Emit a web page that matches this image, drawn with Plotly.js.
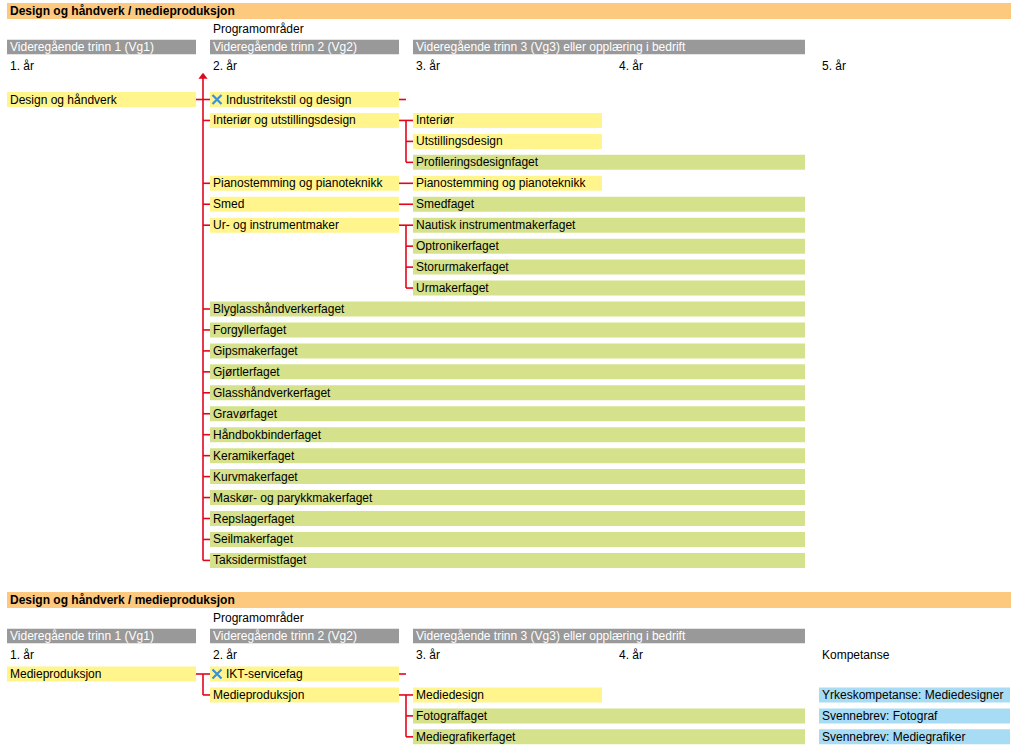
<!DOCTYPE html>
<html><head><meta charset="utf-8">
<script src="https://cdn.plot.ly/plotly-3.0.1.min.js"></script>
<style>html,body{margin:0;padding:0;background:#fff}#chart{width:1011px;height:748px}</style>
</head><body><div id="chart"></div>
<script>
// ================= DATA =================
const sectionTitles = ["Design og håndverk / medieproduksjon", "Design og håndverk / medieproduksjon"];
const headerCaption = "Programområder";
const levelLabels = ["Videregående trinn 1 (Vg1)", "Videregående trinn 2 (Vg2)", "Videregående trinn 3 (Vg3) eller opplæring i bedrift"];
const levelFirstCol = [0, 1, 2];
const levelLastCol = [0, 1, 3];
const yearLabelsA = ["1. år", "2. år", "3. år", "4. år", "5. år"];
const yearLabelsB = ["1. år", "2. år", "3. år", "4. år", "Kompetanse"];

// Section A: Design og håndverk
const boxLabelsA = ["Design og håndverk", "Industritekstil og design", "Interiør og utstillingsdesign", "Interiør",
  "Utstillingsdesign", "Profileringsdesignfaget", "Pianostemming og pianoteknikk", "Pianostemming og pianoteknikk",
  "Smed", "Smedfaget", "Ur- og instrumentmaker", "Nautisk instrumentmakerfaget", "Optronikerfaget",
  "Storurmakerfaget", "Urmakerfaget", "Blyglasshåndverkerfaget", "Forgyllerfaget", "Gipsmakerfaget",
  "Gjørtlerfaget", "Glasshåndverkerfaget", "Gravørfaget", "Håndbokbinderfaget", "Keramikerfaget",
  "Kurvmakerfaget", "Maskør- og parykkmakerfaget", "Repslagerfaget", "Seilmakerfaget", "Taksidermistfaget"];
const boxRowsA     = [0, 0, 1, 1, 2, 3, 4, 4, 5, 5, 6, 6, 7, 8, 9, 10, 11, 12, 13, 14, 15, 16, 17, 18, 19, 20, 21, 22];
const boxFirstColA = [0, 1, 1, 2, 2, 2, 1, 2, 1, 2, 1, 2, 2, 2, 2, 1, 1, 1, 1, 1, 1, 1, 1, 1, 1, 1, 1, 1];
const boxLastColA  = [0, 1, 1, 2, 2, 3, 1, 2, 1, 3, 1, 3, 3, 3, 3, 3, 3, 3, 3, 3, 3, 3, 3, 3, 3, 3, 3, 3];
const boxKindA     = ["Y","Y","Y","Y","Y","G","Y","Y","Y","G","Y","G","G","G","G","G","G","G","G","G","G","G","G","G","G","G","G","G"];
const boxCrossedA  = [false, true, false, false, false, false, false, false, false, false, false, false, false, false,
  false, false, false, false, false, false, false, false, false, false, false, false, false, false];
const linkColA      = [0, 1, 1, 1, 1, 1];
const linkParentA   = [0, 0, 1, 4, 5, 6];
const linkChildrenA = [[0, 1, 4, 5, 6, 10, 11, 12, 13, 14, 15, 16, 17, 18, 19, 20, 21, 22], [], [1, 2, 3], [4], [5], [6, 7, 8, 9]];
const linkArrowA    = [true, false, false, false, false, false];

// Section B: Medieproduksjon
const boxLabelsB = ["Medieproduksjon", "IKT-servicefag", "Medieproduksjon", "Mediedesign", "Fotograffaget",
  "Mediegrafikerfaget", "Yrkeskompetanse: Mediedesigner", "Svennebrev: Fotograf", "Svennebrev: Mediegrafiker"];
const boxRowsB     = [0, 0, 1, 1, 2, 3, 1, 2, 3];
const boxFirstColB = [0, 1, 1, 2, 2, 2, 4, 4, 4];
const boxLastColB  = [0, 1, 1, 2, 3, 3, 4, 4, 4];
const boxKindB     = ["Y","Y","Y","Y","G","G","B","B","B"];
const boxCrossedB  = [false, true, false, false, false, false, false, false, false];
const linkColB      = [0, 1, 1];
const linkParentB   = [0, 0, 1];
const linkChildrenB = [[0, 1], [], [1, 2, 3]];
const linkArrowB    = [false, false, false];

// ================= GEOMETRY / STYLE =================
const PITCH = 203;              // px per column
const BOXW = 189 / PITCH;       // box width in column units
const EDGEW = 191 / PITCH;      // last column reaches page edge
const GAPMID = 196 / PITCH;     // connector spine offset
const TXT = 3 / PITCH;          // text padding
const ROW = 20.95;              // px per row
const BOXH = 15 / ROW;
const FONT = "Liberation Sans, Arial, sans-serif";
const COLORS = {Y: "#fff58c", G: "#d5e28b", B: "#a8dcf4"};
const ORANGE = "#fdc97e", GREY = "#999999", RED = "#e2061c", CROSS = "#3b8fdb";
const xRange = [-7 / PITCH, 1004 / PITCH];
const row0PxA = 99.5, row0PxB = 674;
const hdrBaseA = (11 - row0PxA) / ROW, hdrBaseB = (600 - row0PxB) / ROW;
const HDR = {title: 0, caption: 0.86, level: 1.72, year: 2.625};
const ARROW_ROW = -1.08;

const traces = [];
const annotations = [];

function section(yaxis, yref, hdrBase, yearLabels, labels, rows, first, last, kind, crossed, lcol, lpar, lch, larrow) {
  // header bars
  const hx = [], hb = [], hy = [], hw = [], hc = [];
  hb.push(0); hx.push(xRange[1]); hy.push(hdrBase + HDR.title); hw.push(16 / ROW); hc.push(ORANGE);
  levelLabels.forEach((l, i) => {
    hb.push(levelFirstCol[i]); hx.push(levelLastCol[i] - levelFirstCol[i] + BOXW);
    hy.push(hdrBase + HDR.level); hw.push(14.5 / ROW); hc.push(GREY);
  });
  traces.push({type: "bar", orientation: "h", base: hb, x: hx, y: hy, width: hw, yaxis: yaxis,
    marker: {color: hc}, hoverinfo: "skip", showlegend: false});
  annotations.push({text: "<b>" + (yaxis === "y" ? sectionTitles[0] : sectionTitles[1]) + "</b>", x: TXT, y: hdrBase + HDR.title});
  annotations.push({text: headerCaption, x: 1 + TXT, y: hdrBase + HDR.caption});
  levelLabels.forEach((l, i) => annotations.push({text: l, x: levelFirstCol[i] + TXT, y: hdrBase + HDR.level, color: "#ffffff"}));
  yearLabels.forEach((l, i) => annotations.push({text: l, x: i + TXT, y: hdrBase + HDR.year}));
  annotations.forEach(a => { if (!a.yref) a.yref = yref; });

  // boxes
  ["Y", "G", "B"].forEach(k => {
    const idx = labels.map((_, i) => i).filter(i => kind[i] === k);
    if (!idx.length) return;
    traces.push({type: "bar", orientation: "h", yaxis: yaxis,
      base: idx.map(i => first[i]),
      x: idx.map(i => (last[i] - first[i]) + (last[i] === 4 ? EDGEW : BOXW)),
      y: idx.map(i => rows[i]), width: BOXH,
      marker: {color: COLORS[k]}, hoverinfo: "skip", showlegend: false});
  });
  labels.forEach((l, i) => annotations.push({text: l, x: first[i] + (crossed[i] ? 16 / PITCH : TXT), y: rows[i], yref: yref}));
  const cx = [], cy = [];
  labels.forEach((l, i) => { if (crossed[i]) { cx.push(first[i] + 7 / PITCH); cy.push(rows[i]); } });
  if (cx.length) traces.push({type: "scatter", mode: "markers", x: cx, y: cy, yaxis: yaxis,
    marker: {symbol: "x-thin", size: 9, line: {width: 2.2, color: CROSS}}, hoverinfo: "skip", showlegend: false});

  // connectors
  const lx = [], ly = [], ax = [], ay = [];
  lcol.forEach((c, j) => {
    const p = lpar[j], ch = lch[j], mid = c + GAPMID;
    lx.push(c + BOXW, mid, null); ly.push(p, p, null);
    if (ch.length) {
      let top = Math.min(p, ...ch), bot = Math.max(p, ...ch);
      if (larrow[j]) { top = ARROW_ROW; ax.push(mid); ay.push(ARROW_ROW); }
      lx.push(mid, mid, null); ly.push(top, bot, null);
      ch.forEach(r => { lx.push(mid, c + 1, null); ly.push(r, r, null); });
    }
  });
  traces.push({type: "scatter", mode: "lines", x: lx, y: ly, yaxis: yaxis, connectgaps: false,
    line: {color: RED, width: 1.6}, hoverinfo: "skip", showlegend: false});
  if (ax.length) traces.push({type: "scatter", mode: "markers", x: ax, y: ay, yaxis: yaxis,
    marker: {symbol: "triangle-up", size: 8, color: RED}, hoverinfo: "skip", showlegend: false});
}

section("y", "y", hdrBaseA, yearLabelsA, boxLabelsA, boxRowsA, boxFirstColA, boxLastColA, boxKindA, boxCrossedA,
  linkColA, linkParentA, linkChildrenA, linkArrowA);
section("y2", "y2", hdrBaseB, yearLabelsB, boxLabelsB, boxRowsB, boxFirstColB, boxLastColB, boxKindB, boxCrossedB,
  linkColB, linkParentB, linkChildrenB, linkArrowB);

const anns = annotations.map(a => ({
  text: a.text, x: a.x, y: a.y, xref: "x", yref: a.yref, xanchor: "left", yanchor: "middle",
  showarrow: false, borderpad: 0, borderwidth: 0,
  font: {family: FONT, size: 12, color: a.color || "#000000"}
}));

const layout = {
  width: 1011, height: 748, margin: {l: 0, r: 0, t: 0, b: 0},
  paper_bgcolor: "#ffffff", plot_bgcolor: "#ffffff", barmode: "overlay", showlegend: false,
  xaxis: {range: xRange, visible: false, fixedrange: true},
  yaxis: {range: [(748 - row0PxA) / ROW, (0 - row0PxA) / ROW], visible: false, fixedrange: true},
  yaxis2: {range: [(748 - row0PxB) / ROW, (0 - row0PxB) / ROW], visible: false, fixedrange: true, overlaying: "y"},
  annotations: anns,
  font: {family: FONT, size: 12}
};

Plotly.newPlot("chart", traces, layout, {staticPlot: true, displayModeBar: false});
</script></body></html>
